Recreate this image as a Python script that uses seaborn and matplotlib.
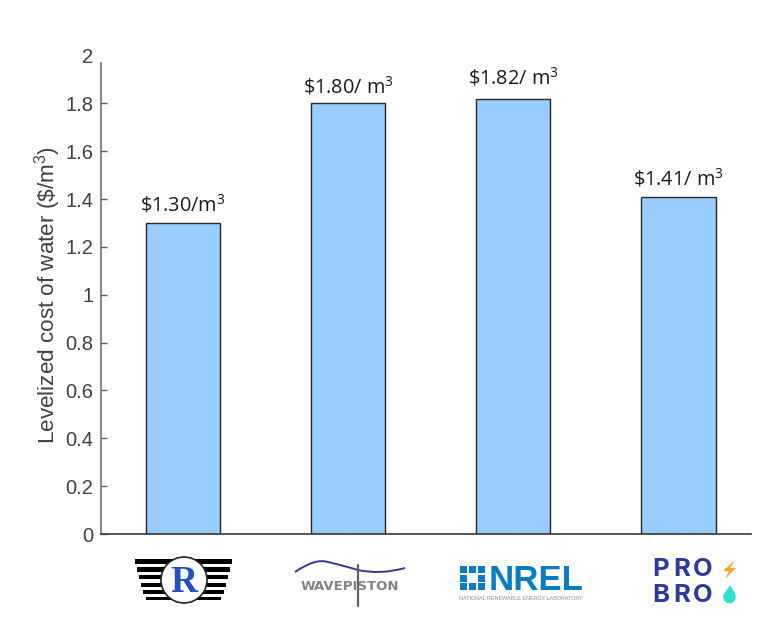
import pandas as pd
import matplotlib.pyplot as plt
import seaborn as sns
from matplotlib.patches import Circle, Polygon, Rectangle, PathPatch
from matplotlib.path import Path

# data
orgs = ["R", "Wavepiston", "NREL", "ProBro"]
lcow = [1.30, 1.80, 1.82, 1.41]
bar_labels = [r"\$1.30/m$^{3}$", r"\$1.80/ m$^{3}$", r"\$1.82/ m$^{3}$", r"\$1.41/ m$^{3}$"]
y_ticks = [0, 0.2, 0.4, 0.6, 0.8, 1, 1.2, 1.4, 1.6, 1.8, 2]
y_ticklabels = ["0", "0.2", "0.4", "0.6", "0.8", "1", "1.2", "1.4", "1.6", "1.8", "2"]

sns.set_theme(style="white")
plt.rcParams["font.family"] = ["Liberation Sans", "DejaVu Sans"]
plt.rcParams["mathtext.default"] = "regular"

W, H = 779, 635
GREY = "#404040"

fig = plt.figure(figsize=(W / 100, H / 100), dpi=100)
ax = fig.add_axes([101 / W, (H - 534) / H, 650 / W, 478.5 / H])

df = pd.DataFrame({"org": orgs, "lcow": lcow})
sns.barplot(data=df, x="org", y="lcow", ax=ax, width=0.45, color="#99ccff",
            saturation=1, edgecolor="#262626", linewidth=1)

ax.set_xlim(-0.497, 3.44)
ax.set_ylim(0, 2)
ax.set_yticks(y_ticks)
ax.set_yticklabels(y_ticklabels, fontsize=14.5, color=GREY)
ax.set_xticks(range(len(orgs)))
ax.set_xticklabels([])
ax.set_xlabel("")
ax.set_ylabel(r"Levelized cost of water (\$/m$^{3}$)", fontsize=16.2, color=GREY, labelpad=1.5)
ax.tick_params(axis="y", direction="in", length=4.5, width=1, color="#606060", left=True, pad=5.5)
ax.tick_params(axis="x", direction="in", length=4.5, width=1, color="#404040", bottom=True)
sns.despine(ax=ax)
# the axis line stops short of the top label in the original
ax.spines["left"].set_bounds(0, 1.967)
ax.spines["left"].set_color("#707070")
ax.spines["left"].set_linewidth(1.2)
ax.spines["bottom"].set_color("#404040")
ax.yaxis.get_major_ticks()[-1].tick1line.set_visible(False)

label_gap = [8.5, 7.5, 10.5, 8]
for i, (v, lab) in enumerate(zip(lcow, bar_labels)):
    ax.annotate(lab, (i, v), xytext=(0, label_gap[i]), textcoords="offset points", ha="center",
                va="baseline", fontsize=14.3, color="#1a1a1a", family=["Open Sans", "DejaVu Sans"])

# logos under the bars, in pixel coords of the image
logo = fig.add_axes([0, 0, 1, 1], facecolor="none")
logo.set_xlim(0, W)
logo.set_ylim(H, 0)
logo.axis("off")

# R logo
for y, inset, th in [(561, 0, 5), (569, 2, 5), (577, 4, 4.5), (585, 6, 4.5), (592, 8, 4), (598, 11, 3)]:
    logo.add_patch(Rectangle((135 + inset, y - th / 2), 97 - 2 * inset, th, color="black", lw=0))
logo.add_patch(Circle((184, 580), 23, facecolor="white", edgecolor="#222222", lw=1.2, zorder=3))
logo.text(184, 582, "R", color="#2450c0", fontsize=27, fontweight="bold", family="Liberation Serif",
          ha="center", va="center", zorder=4)

# Wavepiston logo
wave = Path([(295, 572), (315, 558), (328, 562), (345, 566), (358, 570), (380, 575), (405, 568)],
            [Path.MOVETO, Path.CURVE3, Path.CURVE3, Path.CURVE3, Path.CURVE3, Path.CURVE3, Path.CURVE3])
logo.add_patch(PathPatch(wave, facecolor="none", edgecolor="#35379a", lw=1.4))
logo.text(350, 586, "WAVEPISTON", color="#808488", fontsize=9.5, fontweight="bold", ha="center", va="center",
          family="DejaVu Sans")
logo.plot([358, 358], [565, 606], color="#606468", lw=1.6)

# NREL logo
blue = "#0a7cc4"
for dx, dy in [(0, 0), (9, 0), (18, 0), (0, 8.5), (18, 8.5), (0, 17), (9, 17), (18, 17)]:
    logo.add_patch(Rectangle((460 + dx, 566 + dy), 7, 7, color=blue, lw=0))
logo.text(489, 580, "NREL", color=blue, fontsize=25, fontweight="bold", ha="left", va="center",
          family="Liberation Sans")
logo.text(459, 599, "NATIONAL RENEWABLE ENERGY LABORATORY", color="#8a8f94", fontsize=3.9, ha="left", va="center")

# Pro Bro logo, letters placed one by one for the wide spacing
for word, y in [("PRO", 570), ("BRO", 595)]:
    for letter, x in zip(word, [661, 682, 703]):
        logo.text(x, y, letter, color="#2b3a9f", fontsize=18.5, fontweight="bold", ha="center", va="center",
                  family="Inter")
logo.add_patch(Polygon([[735, 560], [723, 571], [729, 571], [725, 579], [736, 568], [730, 568]], color="#f5a431", lw=0))
logo.add_patch(Circle((729.5, 597), 6.3, color="#2fe0d0", lw=0))
logo.add_patch(Polygon([[730, 585], [724, 594], [735.5, 594]], color="#2fe0d0", lw=0))

fig.savefig("out.png", dpi=100)
